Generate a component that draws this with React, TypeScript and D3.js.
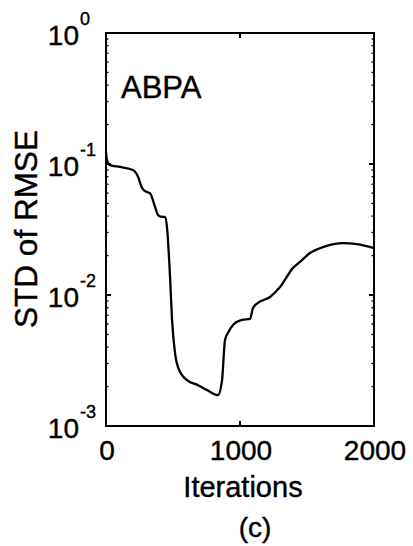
import React from "react";
import * as d3 from "d3";

const iterations = [0, 7, 30, 104, 201, 239, 269, 300, 328, 366, 388, 410, 440, 455, 478, 493, 515, 537, 604, 687, 754, 836, 866, 888, 910, 948, 1015, 1075, 1097, 1134, 1224, 1299, 1396, 1448, 1522, 1619, 1769, 1873, 2000];
const stdRmse = [0.124, 0.107, 0.098, 0.095, 0.090, 0.080, 0.0656, 0.0615, 0.060, 0.047, 0.0408, 0.0396, 0.0394, 0.033, 0.0137, 0.00645, 0.0036, 0.00282, 0.00224, 0.00205, 0.00188, 0.00172, 0.00224, 0.00453, 0.00513, 0.0059, 0.00645, 0.00656, 0.00796, 0.00869, 0.00966, 0.0115, 0.0161, 0.0179, 0.0209, 0.0232, 0.0249, 0.0245, 0.0228];
const xTicks = [0, 1000, 2000];
const yTickExps = [0, -1, -2, -3];
const yLabel = "STD of RMSE";
const xLabel = "Iterations";
const panelTag = "(c)";
const seriesName = "ABPA";

export default function App() {
  const left = 106, right = 374, top = 33, bottom = 426;
  const x = d3.scaleLinear().domain([0, 2000]).range([left, right]);
  const y = d3.scaleLog().domain([1e-3, 1]).range([bottom, top]);
  const line = d3
    .line<number>()
    .x((_, i) => x(iterations[i]))
    .y((d) => y(d))
    .curve(d3.curveMonotoneX);
  const minor: number[] = [];
  for (let e = -3; e < 0; e++) for (let k = 2; k <= 9; k++) minor.push(k * Math.pow(10, e));
  const font = "'Liberation Sans', Arial, sans-serif";
  const ts = { stroke: "#000", strokeWidth: 0.4 };
  return (
    <svg width={413} height={546} style={{ position: "absolute", left: 0, top: 0, background: "#fff" }} fontFamily={font}>
      <rect x={0} y={0} width={413} height={546} fill="#fff" />
      {minor.map((v) => (
        <g key={v}>
          <line x1={left} x2={left + 2.5} y1={y(v)} y2={y(v)} stroke="#000" strokeWidth={1.3} />
          <line x1={right} x2={right - 2.5} y1={y(v)} y2={y(v)} stroke="#000" strokeWidth={1.3} />
        </g>
      ))}
      {yTickExps.map((e) => {
        const yy = y(Math.pow(10, e));
        return (
          <g key={e}>
            <line x1={left} x2={left + 5} y1={yy} y2={yy} stroke="#000" strokeWidth={2} />
            <line x1={right} x2={right - 5} y1={yy} y2={yy} stroke="#000" strokeWidth={2} />
            <text x={79} y={yy + 12} fontSize={28} textAnchor="end" fill="#000" {...ts}>10</text>
            <text x={80} y={yy - 8} fontSize={18} textAnchor="start" fill="#000" {...ts}>{e === 0 ? "0" : "-" + Math.abs(e)}</text>
          </g>
        );
      })}
      {xTicks.map((t) => (
        <g key={t}>
          <line x1={x(t)} x2={x(t)} y1={bottom} y2={bottom - 5} stroke="#000" strokeWidth={2} />
          <line x1={x(t)} x2={x(t)} y1={top} y2={top + 5} stroke="#000" strokeWidth={2} />
          <text x={x(t) + 1} y={460} fontSize={28} textAnchor="middle" fill="#000" {...ts}>{t}</text>
        </g>
      ))}
      <rect x={left} y={top} width={right - left} height={bottom - top} fill="none" stroke="#000" strokeWidth={2} />
      <path d={line(stdRmse) || ""} fill="none" stroke="#000" strokeWidth={2.3} strokeLinejoin="round" />
      <text x={121} y={98} fontSize={31} fill="#000" {...ts}>{seriesName}</text>
      <text x={243} y={497} fontSize={29} textAnchor="middle" fill="#000" {...ts}>{xLabel}</text>
      <text x={255} y={537} fontSize={28} textAnchor="middle" fill="#000" {...ts}>{panelTag}</text>
      <text transform="translate(37,229) rotate(-90)" fontSize={31.5} textAnchor="middle" fill="#000" {...ts}>{yLabel}</text>
    </svg>
  );
}
